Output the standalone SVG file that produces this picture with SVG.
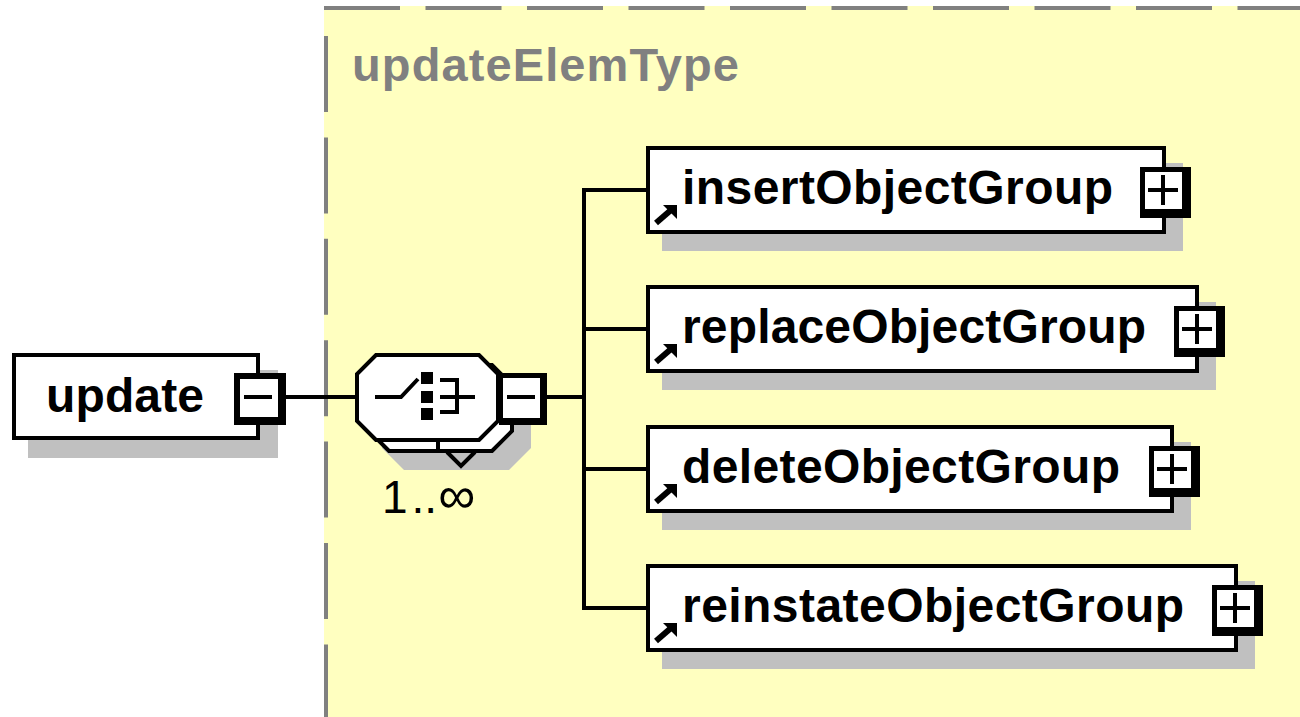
<svg xmlns="http://www.w3.org/2000/svg" width="1300" height="717" viewBox="0 0 1300 717">
<style>
.lbl{font-family:"Liberation Sans",Arial,sans-serif;font-weight:bold;font-size:48px;fill:#000}
.box{fill:#fff;stroke:#000;stroke-width:4}
.shadow{fill:#c0c0c0}
.ln{stroke:#000;stroke-width:4;fill:none}
.btn{fill:#000}
.btnin{fill:#fff}
.occ{font-family:"Liberation Sans",Arial,sans-serif;font-size:46px;fill:#000}
</style>
<defs>
<g id="plus">
<rect class="btn" x="0" y="0" width="51" height="51"/>
<rect class="btnin" x="5" y="5" width="37" height="37"/>
<line class="ln" x1="8" y1="23" x2="38" y2="23"/>
<line class="ln" x1="23" y1="8" x2="23" y2="38"/>
</g>
<g id="ref">
<polygon points="663,0 677,0 677,14" fill="#000"/>
<line x1="656" y1="18" x2="671" y2="5" stroke="#000" stroke-width="6"/>
</g>
</defs>
<rect x="0" y="0" width="1300" height="717" fill="#fff"/>
<g id="complexType">
<rect x="324" y="6" width="976" height="711" fill="#ffffc0"/>
<line x1="324" y1="8" x2="1300" y2="8" stroke="#808080" stroke-width="4" stroke-dasharray="76 25.5"/>
<line x1="326" y1="36" x2="326" y2="717" stroke="#808080" stroke-width="4" stroke-dasharray="76 25.4"/>
<text x="352" y="81" font-family="Liberation Sans,Arial,sans-serif" font-weight="bold" font-size="47" fill="#808080" textLength="387" lengthAdjust="spacing">updateElemType</text>
</g>
<g id="connectors">
<line class="ln" x1="286" y1="397" x2="357" y2="397"/>
<line class="ln" x1="547" y1="397" x2="584" y2="397"/>
<line class="ln" x1="584" y1="188" x2="584" y2="610"/>
<line class="ln" x1="584" y1="190" x2="648" y2="190"/>
<line class="ln" x1="584" y1="329" x2="648" y2="329"/>
<line class="ln" x1="584" y1="469" x2="648" y2="469"/>
<line class="ln" x1="584" y1="608" x2="648" y2="608"/>
</g>
<g id="update">
<rect class="shadow" x="28" y="370" width="250" height="88"/>
<rect class="box" x="14" y="355" width="244" height="83"/>
<text class="lbl" x="46" y="412" textLength="158" lengthAdjust="spacing">update</text>
<rect class="btn" x="234" y="373" width="52" height="52"/>
<rect class="btnin" x="240" y="379" width="38" height="38"/>
<line class="ln" x1="244" y1="397" x2="272" y2="397"/>
</g>
<g id="choice">
<polygon class="shadow" points="404,380 509,380 531,402 531,448 509,470 404,470 382,448 382,402"/>
<polygon points="389,365 492,365 512,385 512,431 492,451 389,451 369,431 369,385" fill="#fff" stroke="#000" stroke-width="4"/>
<polyline class="ln" points="447,452 461,466 475,452" stroke-width="3.5"/>
<line class="ln" x1="438" y1="441" x2="438" y2="451" stroke-width="3.5"/>
<polygon points="376,355 479,355 498,374 498,421 479,440 376,440 357,421 357,374" fill="#fff" stroke="#000" stroke-width="4"/>
<polyline class="ln" points="375,397 401,397 418,379"/>
<rect class="btn" x="421" y="372" width="12" height="12"/>
<rect class="btn" x="421" y="391" width="12" height="12"/>
<rect class="btn" x="421" y="408" width="12" height="12"/>
<polyline class="ln" points="440,380 457,380 457,412 440,412"/>
<line class="ln" x1="440" y1="397" x2="475" y2="397"/>
<rect class="btn" x="499" y="373" width="48" height="52"/>
<rect class="btnin" x="503" y="378" width="37" height="40"/>
<line class="ln" x1="507" y1="397" x2="535" y2="397"/>
<text class="occ" x="382" y="513">1<tspan dx="4">..</tspan><tspan dx="1" font-size="52">∞</tspan></text>
</g>
<g id="insertObjectGroup">
<rect class="shadow" x="662" y="163" width="521" height="88"/>
<rect class="box" x="648" y="148" width="516" height="84"/>
<use href="#ref" transform="translate(0,205)"/>
<text class="lbl" x="682" y="204" textLength="431" lengthAdjust="spacing">insertObjectGroup</text>
<use href="#plus" x="1140" y="167"/>
</g>
<g id="replaceObjectGroup">
<rect class="shadow" x="662" y="302" width="554" height="88"/>
<rect class="box" x="648" y="287" width="549" height="84"/>
<use href="#ref" transform="translate(0,344)"/>
<text class="lbl" x="682" y="343" textLength="464" lengthAdjust="spacing">replaceObjectGroup</text>
<use href="#plus" x="1174" y="306"/>
</g>
<g id="deleteObjectGroup">
<rect class="shadow" x="662" y="442" width="529" height="88"/>
<rect class="box" x="648" y="427" width="524" height="84"/>
<use href="#ref" transform="translate(0,484)"/>
<text class="lbl" x="682" y="483" textLength="438" lengthAdjust="spacing">deleteObjectGroup</text>
<use href="#plus" x="1149" y="446"/>
</g>
<g id="reinstateObjectGroup">
<rect class="shadow" x="662" y="581" width="593" height="88"/>
<rect class="box" x="648" y="566" width="588" height="84"/>
<use href="#ref" transform="translate(0,623)"/>
<text class="lbl" x="682" y="622" textLength="502" lengthAdjust="spacing">reinstateObjectGroup</text>
<use href="#plus" x="1212" y="585"/>
</g>
</svg>
